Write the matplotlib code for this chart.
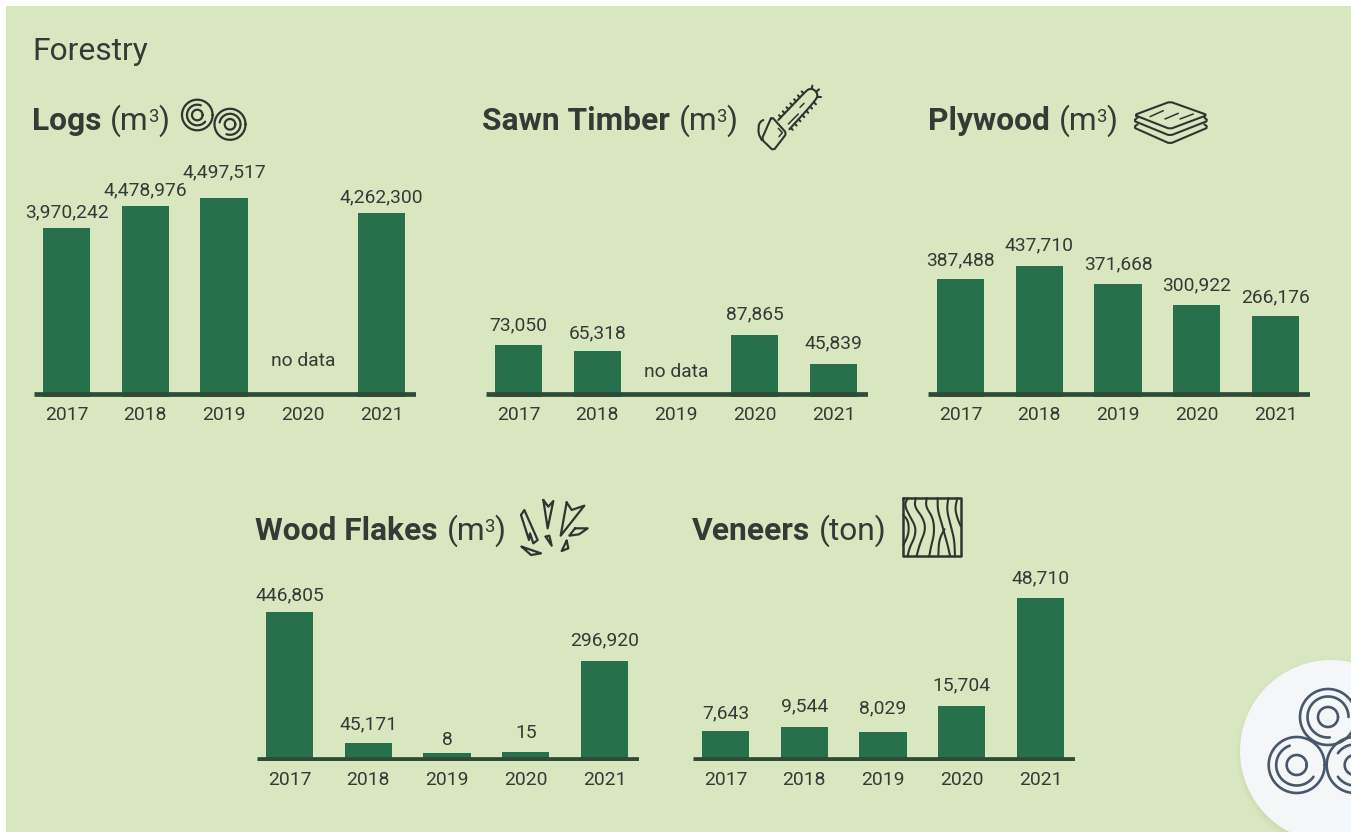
import numpy as np
import matplotlib
matplotlib.use("Agg")
import matplotlib.pyplot as plt
from matplotlib.patches import Circle, Rectangle

years = ["2017", "2018", "2019", "2020", "2021"]

# printed numbers, None where the chart says "no data"
logs_values = [3970242, 4478976, 4497517, None, 4262300]
sawn_values = [73050, 65318, None, 87865, 45839]
plywood_values = [387488, 437710, 371668, 300922, 266176]
flakes_values = [446805, 45171, 8, 15, 296920]
veneers_values = [7643, 9544, 8029, 15704, 48710]

# bar heights as drawn, the picture does not always follow the printed number
logs_bars = [3970242, 4478976, 4680000, 0, 4312000]
sawn_bars = [73050, 65318, 0, 87865, 45839]
plywood_bars = [387488, 430650, 371668, 300922, 266176]
flakes_bars = [446805, 53800, 24000, 27000, 299000]
veneers_bars = [8970, 10170, 8670, 16445, 48710]

# pixels between bar top and label baseline, the labels are placed by hand in the original
logs_gaps = [10.5, 11.5, 20.5, 0, 11.5]
sawn_gaps = [14.5, 12.5, 0, 15.5, 15.5]
plywood_gaps = [13.5, 15.5, 14.5, 14.5, 13.5]
flakes_gaps = [11.5, 13.5, 7.5, 13.5, 15.5]
veneers_gaps = [12.5, 15.5, 18.5, 15.5, 14.5]

BG = "#d9e7c0"
BAR = "#26704c"
LINE = "#2f4a37"
TEXT = "#343a36"
ICON = "#2e3530"
BIG_ICON = "#47586c"
LABEL_SIZE = 13.9
HEAD_SIZE = 22.9

W, H = 1351, 832
plt.rcParams["font.family"] = ["Roboto", "DejaVu Sans"]

fig = plt.figure(figsize=(W / 100, H / 100), dpi=100, facecolor="white")

# overlay in pixel coordinates for background, headings and icons
bg = fig.add_axes([0, 0, 1, 1], zorder=0)
bg.set_xlim(0, W)
bg.set_ylim(H, 0)
bg.axis("off")
bg.add_patch(Rectangle((6, 6), W - 6, H - 6, facecolor=BG, edgecolor="none"))


def arc(cx, cy, r, a0=0, a1=360, color=ICON, lw=1.6):
    t = np.radians(np.linspace(a0, a1, 90))
    bg.plot(cx + r * np.cos(t), cy - r * np.sin(t), color=color, lw=lw,
            solid_capstyle="round")


def zoomed(origin, pts):
    pts = np.array(pts, dtype=float)
    return pts / 3 + np.array(origin)


def smooth(pts, rounds=3):
    pts = np.array(pts, dtype=float)
    for _ in range(rounds):
        q = 0.75 * pts[:-1] + 0.25 * pts[1:]
        r = 0.25 * pts[:-1] + 0.75 * pts[1:]
        mid = np.empty((q.shape[0] * 2, 2))
        mid[0::2] = q
        mid[1::2] = r
        pts = np.vstack([pts[:1], mid, pts[-1:]])
    return pts


def chamfer(pts, closed, d=6):
    # cut the corners a little so the outline looks rounded
    pts = np.array(pts, dtype=float)
    n = len(pts)
    out = []
    for i in range(n):
        if not closed and i in (0, n - 1):
            out.append(pts[i])
            continue
        p, a, b = pts[i], pts[(i - 1) % n], pts[(i + 1) % n]
        out.append(p + (a - p) / np.linalg.norm(a - p) * d)
        out.append(p + (b - p) / np.linalg.norm(b - p) * d)
    out = np.array(out)
    if closed:
        out = np.vstack([out, out[:1]])
    return out


def poly(origin, pts, lw=1.5, closed=True, rounded=False):
    if rounded:
        pts = chamfer(pts, closed)
    else:
        pts = np.array(pts, dtype=float)
        if closed:
            pts = np.vstack([pts, pts[:1]])
    p = zoomed(origin, pts)
    bg.plot(p[:, 0], p[:, 1], color=ICON, lw=lw, solid_joinstyle="round",
            solid_capstyle="round")


def heading(x, y, name, unit, sup=None):
    r = fig.canvas.get_renderer()
    t = bg.text(x, y, name, fontsize=HEAD_SIZE, fontweight="bold", color=TEXT, va="baseline")
    x = x + t.get_window_extent(r).width + 9
    if sup is None:
        bg.text(x, y, "(" + unit + ")", fontsize=HEAD_SIZE, color=TEXT, va="baseline")
        return
    t = bg.text(x, y, "(" + unit, fontsize=HEAD_SIZE, color=TEXT, va="baseline")
    x = x + t.get_window_extent(r).width - 1
    t = bg.text(x, y - 8, sup, fontsize=13.3, color=TEXT, va="baseline")
    x = x + t.get_window_extent(r).width
    bg.text(x, y, ")", fontsize=HEAD_SIZE, color=TEXT, va="baseline")


def panel(left, bottom, ymax, bars, values, gaps, nodata_gap=30):
    ax = fig.add_axes([left / W, 1 - bottom / H, 381.5 / W, 220 / H], zorder=2)
    ax.patch.set_alpha(0)
    x = np.arange(len(years))
    ax.bar(x, bars, width=0.597, color=BAR)
    ax.set_xlim(-0.413, 4.432)
    ax.set_ylim(0, ymax)
    ax.set_yticks([])
    ax.set_xticks(x)
    ax.set_xticklabels(years, fontsize=LABEL_SIZE, color=TEXT)
    ax.tick_params(axis="x", length=0, pad=7.2)
    for s in ax.spines.values():
        s.set_visible(False)
    # axis rule sits over the foot of the bars
    ax.axhline(ymax / 220 * 2.3, color=LINE, lw=3.4, solid_capstyle="butt", zorder=5)
    for i, v in enumerate(values):
        if v is None:
            ax.annotate("no data", (i, 0), xytext=(0, nodata_gap * 0.72),
                        textcoords="offset points", ha="center", va="baseline",
                        fontsize=LABEL_SIZE, color=TEXT)
        else:
            ax.annotate(f"{v:,}", (i, bars[i]), xytext=(0, gaps[i] * 0.72),
                        textcoords="offset points", ha="center", va="baseline",
                        fontsize=LABEL_SIZE, color=TEXT)
    return ax


bg.text(32, 60, "Forestry", fontsize=22.9, color=TEXT, va="baseline")

heading(32, 130, "Logs", "m", "3")
heading(482, 130, "Sawn Timber", "m", "3")
heading(928, 130, "Plywood", "m", "3")
heading(255, 540, "Wood Flakes", "m", "3")
heading(692, 540, "Veneers", "ton")

panel(34, 396.5, 5183640, logs_bars, logs_values, logs_gaps)
panel(486, 396.5, 313280, sawn_bars, sawn_values, sawn_gaps, nodata_gap=19.5)
panel(928, 396.5, 726000, plywood_bars, plywood_values, plywood_gaps)
panel(257, 761, 657800, flakes_bars, flakes_values, flakes_gaps)
panel(693, 761, 65780, veneers_bars, veneers_values, veneers_gaps)

# logs icon
arc(197.3, 115, 15.3)
arc(197.3, 115, 10.3, 70, 320)
arc(197.3, 115, 5.3)
arc(230, 124.3, 15.5)
arc(230, 124.3, 10.5, -110, 170)
arc(230, 124.3, 5.3)

# chainsaw
o = (750, 80)
poly(o, [(65, 110), (110, 160), (70, 212), (35, 178)], rounded=True)
poly(o, [(40, 120), (27, 128), (25, 160), (35, 180)], closed=False, rounded=True)
tip = smooth([(85, 120), (165, 36), (178, 26), (192, 28), (203, 42), (200, 58), (118, 148)], 2)
poly(o, tip, closed=False)
poly(o, [(115, 132), (145, 102)], lw=1.1, closed=False)
poly(o, [(150, 82), (162, 70)], lw=1.1, closed=False)
poly(o, [(85, 145), (97, 158), (87, 170)], lw=1.1, closed=False)
for s in np.linspace(0.1, 0.95, 7):
    tx, ty = 85 + 80 * s, 120 - 84 * s
    poly(o, [(tx, ty), (tx - 6, ty - 6)], lw=1.5, closed=False)
for s in np.linspace(0.05, 0.9, 7):
    tx, ty = 118 + 82 * s, 148 - 90 * s
    poly(o, [(tx, ty), (tx + 6, ty + 6)], lw=1.5, closed=False)
for tx, ty, dx, dy in [(185, 26, 2, -9), (200, 34, 7, -6), (204, 50, 8, 0)]:
    poly(o, [(tx, ty), (tx + dx, ty + dy)], lw=1.5, closed=False)

# plywood
o = (1125, 95)
poly(o, [(28, 60), (135, 20), (247, 60), (135, 102)], rounded=True)
poly(o, [(38, 68), (25, 77), (135, 122), (250, 77), (238, 68)], closed=False, rounded=True)
poly(o, [(38, 88), (25, 97), (135, 146), (250, 97), (238, 88)], closed=False, rounded=True)
for seg in [[(75, 65), (115, 47)], [(120, 72), (160, 55)], [(165, 72), (205, 57)]]:
    poly(o, seg, lw=1.1, closed=False)

# wood flakes
o = (515, 495)
flakes = [
    [(18, 60), (28, 45), (68, 135), (55, 145), (45, 115), (42, 135)],
    [(85, 15), (100, 35), (115, 18), (98, 100)],
    [(155, 22), (170, 45), (208, 32), (137, 122)],
    [(180, 100), (218, 100), (192, 118), (163, 122)],
    [(92, 125), (103, 122), (110, 152)],
    [(155, 137), (160, 160), (140, 168)],
    [(20, 155), (78, 175), (48, 180)],
]
for f in flakes:
    poly(o, f, lw=1.6)

# veneer board
o = (895, 490)
poly(o, [(25, 25), (197, 25), (197, 197), (25, 197)], lw=1.8)
grain = [
    [(38, 25), (28, 45), (45, 80), (62, 110), (60, 140), (45, 170), (38, 197)],
    [(62, 25), (58, 50), (85, 85), (92, 120), (75, 160), (65, 197)],
    [(95, 25), (92, 50), (115, 85), (118, 130), (108, 170), (103, 197)],
    [(128, 25), (128, 60), (140, 100), (148, 130), (158, 165), (165, 197)],
    [(148, 118), (132, 150), (130, 197)],
    [(160, 25), (155, 60), (168, 110), (178, 150), (180, 197)],
    [(187, 25), (180, 55), (187, 85), (197, 108)],
    [(25, 75), (38, 90), (42, 115), (38, 140), (25, 165)],
]
for g in grain:
    p = zoomed(o, smooth(g))
    bg.plot(p[:, 0], p[:, 1], color=ICON, lw=1.5)

# badge bottom right with a faint shadow
for grow, alpha in [(5, 0.012), (3, 0.018), (1, 0.025)]:
    bg.add_patch(Circle((1332, 754), 91 + grow, facecolor="#334433", alpha=alpha, edgecolor="none"))
bg.add_patch(Circle((1331, 751), 91, facecolor="#f4f6f8", edgecolor="none"))
for cx, cy, mids in [
    (1328, 717, [(0, 275)]),
    (1296.7, 765, [(110, 325)]),
    (1354.7, 765, [(90, 145), (215, 270)]),
]:
    arc(cx, cy, 28, color=BIG_ICON, lw=1.9)
    for a0, a1 in mids:
        arc(cx, cy, 20.5, a0, a1, color=BIG_ICON, lw=1.9)
    arc(cx, cy, 10, color=BIG_ICON, lw=1.9)

bg.set_xlim(0, W)
bg.set_ylim(H, 0)
fig.savefig("out.png", dpi=100, facecolor="white")
